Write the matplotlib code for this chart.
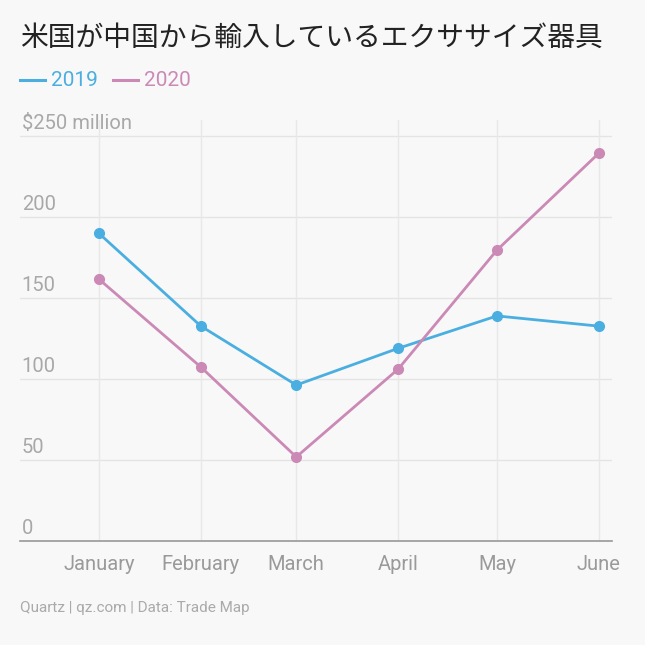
import matplotlib
matplotlib.use("Agg")
import matplotlib.pyplot as plt
import matplotlib.lines as mlines
import matplotlib.transforms as mtransforms
import datetime as dt

months = ["January", "February", "March", "April", "May", "June"]
dates = [dt.date(2020, m, 1) for m in range(1, 7)]
v2019 = [190, 132.7, 96.3, 119, 139, 132.7]
v2020 = [161.7, 107.4, 51.9, 106.2, 179.6, 239.5]
yticks = [0, 50, 100, 150, 200, 250]
ylabels = ["0", "50", "100", "150", "200", "$250 million"]

c19 = "#4AAFE0"
c20 = "#CB89B6"
bg = "#F8F8F8"
grey = "#9a9a9a"

plt.rcParams['font.family'] = ['Roboto', 'DejaVu Sans']

fig = plt.figure(figsize=(6.45, 6.45), dpi=100, facecolor=bg)
ax = fig.add_axes([20/645, 1-541/645, 592/645, (541-120)/645])
ax.set_facecolor(bg)

ax.plot(dates, v2019, color=c19, lw=2, marker='o', ms=7, zorder=3, clip_on=False)
ax.plot(dates, v2020, color=c20, lw=2, marker='o', ms=7, zorder=3, clip_on=False)

ax.set_xlim(dt.date(2019, 12, 8), dt.date(2020, 6, 5))
ax.set_ylim(0, 260)

ax.set_xticks(dates)
ax.set_xticklabels(months)
ax.set_yticks([])
for y in yticks[1:]:
    ax.axhline(y, color="#e4e4e4", lw=1, zorder=1)
ax.grid(axis='x', color="#e8e8e8", lw=1, zorder=1)
for s in ['top', 'right', 'left']:
    ax.spines[s].set_visible(False)
ax.spines['bottom'].set_color("#999999")
ax.spines['bottom'].set_linewidth(1.2)
ax.tick_params(axis='x', length=0, pad=10, labelsize=14.5, labelcolor=grey)

trans = mtransforms.blended_transform_factory(ax.transAxes, ax.transData)
for y, lab in zip(yticks, ylabels):
    ax.text(0.003, y + 2, lab, transform=trans, fontsize=14.5, color="#a8a8a8",
            ha='left', va='bottom')

fig.text(20/645, 1-38/645, "米国が中国から輸入しているエクササイズ器具",
         family=['Noto Sans CJK JP', 'DejaVu Sans'], fontsize=20,
         color="#222222", ha='left', va='center')

ly = 1 - 80/645
fig.add_artist(mlines.Line2D([20/645, 45/645], [ly, ly], color=c19, lw=2.2))
fig.text(51/645, ly, "2019", fontsize=15, color=c19, ha='left', va='center')
fig.add_artist(mlines.Line2D([113/645, 138/645], [ly, ly], color=c20, lw=2.2))
fig.text(144/645, ly, "2020", fontsize=15, color=c20, ha='left', va='center')

fig.text(20/645, 1-608/645, "Quartz | qz.com | Data: Trade Map", fontsize=11,
         color="#aaaaaa", ha='left', va='center')

fig.savefig("out.png", dpi=100, facecolor=bg)
